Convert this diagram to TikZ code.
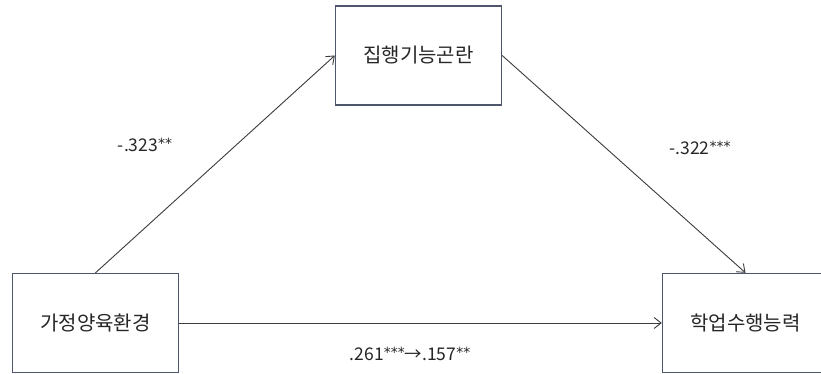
\documentclass[tikz,border=0pt]{standalone}
\usepackage{fontspec}
\setmainfont{Noto Sans CJK KR}
\newfontfamily\starfont{DejaVu Sans}
\usetikzlibrary{arrows.meta}
\definecolor{boxc}{RGB}{78,86,108}
\definecolor{arrc}{RGB}{60,60,64}
\newcommand{\stars}[1]{{\starfont\fontsize{14}{14}\selectfont\raisebox{3.5pt}{#1}}}
\begin{document}
\begin{tikzpicture}[x=1pt,y=-1pt,
  boxnode/.style={draw=boxc, line width=1.4pt, minimum width=166pt, minimum height=99pt, inner sep=0pt, font=\fontsize{20}{22}\selectfont, text=black!85},
  conn/.style={draw=arrc, line width=0.9pt, -{Straight Barb[length=7pt,width=11pt,line width=0.9pt]}},
  lbl/.style={font=\fontsize{17.5}{19}\selectfont, text=black!85, inner sep=0pt}]
\useasboundingbox (0,0) rectangle (821,374);
\fill[white] (0,0) rectangle (821,374);
\node[boxnode] (home) at (95.5,323) {가정양육환경};
\node[boxnode] (exec) at (418.5,55.5) {집행기능곤란};
\node[boxnode] (acad) at (745.5,323) {학업수행능력};
\draw[conn] (home.north) -- (exec.west);
\draw[conn] (exec.east) -- (acad.north);
\draw[conn] (home.east) -- (acad.west);
\node[lbl] (l1) at (145,145) {-.323\stars{**}};
\node[lbl] (l2) at (700,148) {-.322\stars{***}};
\node[lbl] (l3) at (410,354) {.261\stars{***}→.157\stars{**}};
\end{tikzpicture}
\end{document}
